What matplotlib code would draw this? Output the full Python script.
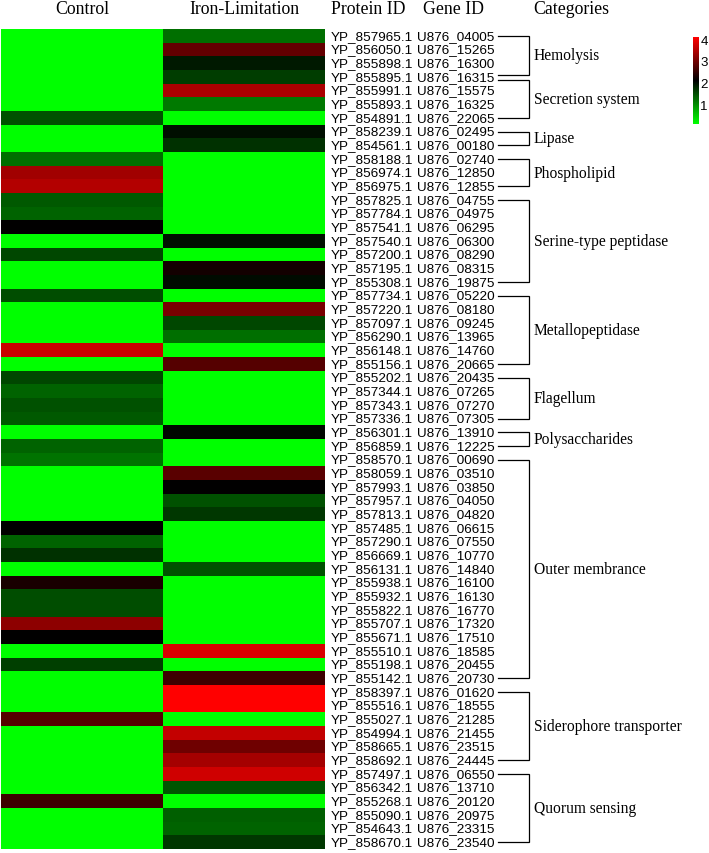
import numpy as np
import matplotlib
matplotlib.use('Agg')
import matplotlib.pyplot as plt
from matplotlib.colors import LinearSegmentedColormap, Normalize
from matplotlib.cm import ScalarMappable

# Data
conditions = ['Control', 'Iron-Limitation']

protein_ids = [
    'YP_857965.1', 'YP_856050.1', 'YP_855898.1', 'YP_855895.1', 'YP_855991.1',
    'YP_855893.1', 'YP_854891.1', 'YP_858239.1', 'YP_854561.1', 'YP_858188.1',
    'YP_856974.1', 'YP_856975.1', 'YP_857825.1', 'YP_857784.1', 'YP_857541.1',
    'YP_857540.1', 'YP_857200.1', 'YP_857195.1', 'YP_855308.1', 'YP_857734.1',
    'YP_857220.1', 'YP_857097.1', 'YP_856290.1', 'YP_856148.1', 'YP_855156.1',
    'YP_855202.1', 'YP_857344.1', 'YP_857343.1', 'YP_857336.1', 'YP_856301.1',
    'YP_856859.1', 'YP_858570.1', 'YP_858059.1', 'YP_857993.1', 'YP_857957.1',
    'YP_857813.1', 'YP_857485.1', 'YP_857290.1', 'YP_856669.1', 'YP_856131.1',
    'YP_855938.1', 'YP_855932.1', 'YP_855822.1', 'YP_855707.1', 'YP_855671.1',
    'YP_855510.1', 'YP_855198.1', 'YP_855142.1', 'YP_858397.1', 'YP_855516.1',
    'YP_855027.1', 'YP_854994.1', 'YP_858665.1', 'YP_858692.1', 'YP_857497.1',
    'YP_856342.1', 'YP_855268.1', 'YP_855090.1', 'YP_854643.1', 'YP_858670.1',
]

gene_ids = [
    'U876_04005', 'U876_15265', 'U876_16300', 'U876_16315', 'U876_15575',
    'U876_16325', 'U876_22065', 'U876_02495', 'U876_00180', 'U876_02740',
    'U876_12850', 'U876_12855', 'U876_04755', 'U876_04975', 'U876_06295',
    'U876_06300', 'U876_08290', 'U876_08315', 'U876_19875', 'U876_05220',
    'U876_08180', 'U876_09245', 'U876_13965', 'U876_14760', 'U876_20665',
    'U876_20435', 'U876_07265', 'U876_07270', 'U876_07305', 'U876_13910',
    'U876_12225', 'U876_00690', 'U876_03510', 'U876_03850', 'U876_04050',
    'U876_04820', 'U876_06615', 'U876_07550', 'U876_10770', 'U876_14840',
    'U876_16100', 'U876_16130', 'U876_16770', 'U876_17320', 'U876_17510',
    'U876_18585', 'U876_20455', 'U876_20730', 'U876_01620', 'U876_18555',
    'U876_21285', 'U876_21455', 'U876_23515', 'U876_24445', 'U876_06550',
    'U876_13710', 'U876_20120', 'U876_20975', 'U876_23315', 'U876_23540',
]

control = [
    0.1, 0.1, 0.1, 0.1, 0.1, 0.1, 1.47, 0.1, 0.1, 1.24,
    3.35, 3.5, 1.4, 1.32, 2.1, 0.1, 1.55, 0.1, 0.1, 1.5,
    0.1, 0.1, 0.1, 3.67, 0.1, 1.55, 1.32, 1.47, 1.4, 0.1,
    1.32, 1.2, 0.1, 0.1, 0.1, 0.1, 2.1, 1.32, 1.71, 0.1,
    2.3, 1.5, 1.5, 3.2, 2.1, 0.1, 1.6, 0.1, 0.1, 0.1,
    2.77, 0.1, 0.1, 0.1, 0.1, 0.1, 2.57, 0.1, 0.1, 0.1,
]

iron_limitation = [
    1.24, 2.88, 1.9, 1.63, 3.43, 1.16, 0.1, 1.98, 1.71, 0.1,
    0.1, 0.1, 0.1, 0.1, 0.1, 1.98, 0.1, 2.25, 2.02, 0.1,
    3.04, 1.55, 1.24, 0.1, 2.77, 0.1, 0.1, 0.1, 0.1, 2.05,
    0.1, 0.1, 2.8, 2.1, 1.47, 1.67, 0.1, 0.1, 0.1, 1.47,
    0.1, 0.1, 0.1, 0.1, 0.1, 3.79, 0.1, 2.57, 4.1, 4.1,
    0.1, 3.63, 2.96, 3.39, 3.71, 1.43, 0.1, 1.36, 1.32, 1.67,
]

# categories: (name, first row, last row), rows counted from 1
categories = [
    ('Hemolysis', 1, 4),
    ('Secretion system', 4, 7),
    ('Lipase', 8, 9),
    ('Phospholipid', 10, 12),
    ('Serine-type peptidase', 13, 19),
    ('Metallopeptidase', 20, 25),
    ('Flagellum', 26, 29),
    ('Polysaccharides', 30, 31),
    ('Outer membrance', 32, 48),
    ('Siderophore transporter', 49, 54),
    ('Quorum sensing', 55, 60),
]

cbar_ticks = [1, 2, 3, 4]

# layout in pixels
W, H = 709, 854
hm_left, hm_right, hm_top, hm_bottom = 1, 325, 30, 850
n_rows = len(protein_ids)
row_h = (hm_bottom - hm_top) / n_rows

fig = plt.figure(figsize=(W / 100, H / 100), dpi=100)

cmap = LinearSegmentedColormap.from_list('gkr', ['#00ff00', '#000000', '#ff0000'])
norm = Normalize(vmin=0.1, vmax=4.1)

# heatmap
ax = fig.add_axes([hm_left / W, 1 - hm_bottom / H,
                   (hm_right - hm_left) / W, (hm_bottom - hm_top) / H])
data = np.column_stack([control, iron_limitation])
ax.pcolormesh(np.arange(3), np.arange(n_rows + 1), data, cmap=cmap, norm=norm)
ax.set_xlim(0, 2)
ax.set_ylim(n_rows, 0)
ax.set_axis_off()

# overlay for text and brackets, pixel coordinates
ov = fig.add_axes([0, 0, 1, 1])
ov.set_xlim(0, W)
ov.set_ylim(H, 0)
ov.set_axis_off()

serif = 'Liberation Serif'
sans = 'Liberation Sans'

col_w = (hm_right - hm_left) / len(conditions)
for i, name in enumerate(conditions):
    ov.text(hm_left + (i + 0.5) * col_w, 14, name, ha='center', va='baseline',
            family=serif, fontsize=12.8)
ov.text(331, 14, 'Protein ID', ha='left', va='baseline', family=serif, fontsize=12.8)
ov.text(423, 14, 'Gene ID', ha='left', va='baseline', family=serif, fontsize=12.8)
ov.text(533, 14, 'Categories', ha='left', va='baseline', family=serif, fontsize=12.8)

def row_y(r):
    return hm_top + (r - 0.5) * row_h

for i in range(n_rows):
    y = row_y(i + 1)
    ov.text(331, y, protein_ids[i], ha='left', va='center', family=sans, fontsize=9.7)
    ov.text(417, y, gene_ids[i], ha='left', va='center', family=sans, fontsize=9.7)

# brackets
x0, x1 = 498, 529
starts = [c[1] for c in categories]
ends = [c[2] for c in categories]
for name, first, last in categories:
    top = row_y(first)
    bot = row_y(last)
    if first in ends:
        top += 0.22 * row_h
    if last in starts:
        bot -= 0.15 * row_h
    ov.plot([x0, x1, x1, x0], [top, top, bot, bot], color='black', lw=0.9,
            solid_joinstyle='miter')
    ov.text(534, (top + bot) / 2, name, ha='left', va='center', family=serif,
            fontsize=11.2)

# colorbar
cax = fig.add_axes([693 / W, 1 - 125 / H, 6 / W, 87 / H])
cb = fig.colorbar(ScalarMappable(norm=norm, cmap=cmap), cax=cax, ticks=cbar_ticks)
cb.outline.set_visible(False)
cax.tick_params(length=0, pad=1, labelsize=9.5)
for lab in cax.get_yticklabels():
    lab.set_family(sans)

fig.savefig('out.png', dpi=100)
